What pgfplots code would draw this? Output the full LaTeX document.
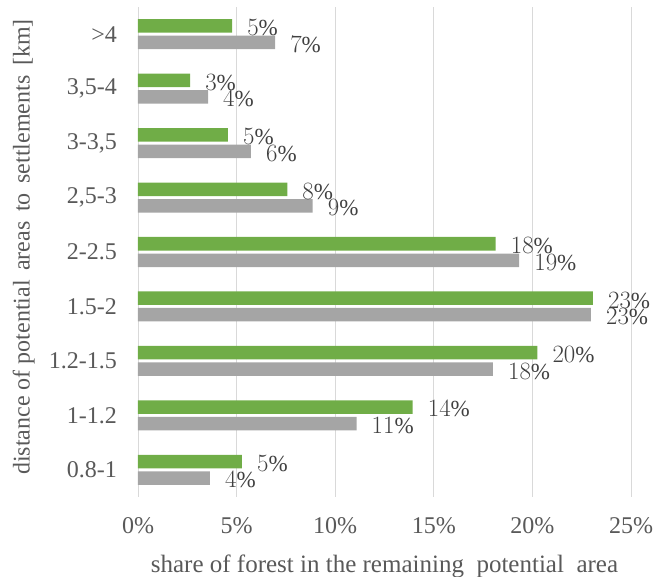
\documentclass[border=0pt]{standalone}
\usepackage{fontspec}
\setmainfont{Liberation Serif}
\usepackage{pgfplots}
\pgfplotsset{compat=1.18}
\definecolor{barG}{HTML}{70AD47}
\definecolor{barK}{HTML}{A5A5A5}
\definecolor{gridc}{HTML}{D9D9D9}
\definecolor{txt}{HTML}{595959}
\definecolor{lbl}{HTML}{404040}
\newcommand\wsp{\hspace{0.15em}}
\begin{document}
\begin{tikzpicture}
\useasboundingbox (-138pt,-80pt) rectangle (522pt,497pt);
\begin{axis}[
  at={(0,0)}, anchor=south west,
  scale only axis, width=493pt, height=490pt,
  xbar, bar width=13.5pt,
  xmin=0, xmax=25, ymin=-0.5, ymax=8.5,
  clip=false,
  xtick={0,5,10,15,20,25},
  xticklabels={0\%,5\%,10\%,15\%,20\%,25\%},
  ytick={0,1,2,3,4,5,6,7,8},
  yticklabels={0.8-1,1-1.2,1.2-1.5,1.5-2,2-2.5,{2,5-3},{3-3,5},{3,5-4},>4},
  axis line style={draw=none},
  major tick length=0pt,
  xmajorgrids=true, ymajorgrids=false,
  grid style={color=gridc, line width=0.9pt},
  tick label style={font=\fontsize{24}{28}\selectfont, text=txt},
  xticklabel style={anchor=north, inner sep=0pt, yshift=-20pt},
  yticklabel style={anchor=east, inner sep=0pt, xshift=-21pt},
  label style={text=txt},
  xlabel={share of forest in the remaining\hspace{0.25em} potential\hspace{0.25em} area},
  xlabel style={font=\fontsize{25}{29}\selectfont, at={(axis description cs:0.5,-0.1408)}, anchor=center},
  ylabel={distance of potential\wsp{} areas\wsp{} to\wsp{} settlements\wsp{} [km]},
  ylabel style={font=\fontsize{24}{28}\selectfont, at={(axis description cs:-0.232,0.51)}, anchor=center},
  point meta=x,
  nodes near coords={\pgfmathprintnumber[fixed,precision=0]{\pgfplotspointmeta}\%},
  every node near coord/.append style={anchor=west, inner sep=1pt, xshift=14pt, yshift=-2pt, font=\fontsize{23}{27}\selectfont, text=lbl},
]
\addplot[fill=barG, draw=none, bar shift=8.25pt] coordinates {
  (5.27,0) (13.93,1) (20.25,2) (23.07,3) (18.14,4) (7.57,5) (4.56,6) (2.64,7) (4.77,8)
};
\addplot[fill=barK, draw=none, bar shift=-8.25pt] coordinates {
  (3.65,0) (11.08,1) (18.0,2) (22.97,3) (19.33,4) (8.86,5) (5.73,6) (3.55,7) (6.95,8)
};
\end{axis}
\end{tikzpicture}
\end{document}
